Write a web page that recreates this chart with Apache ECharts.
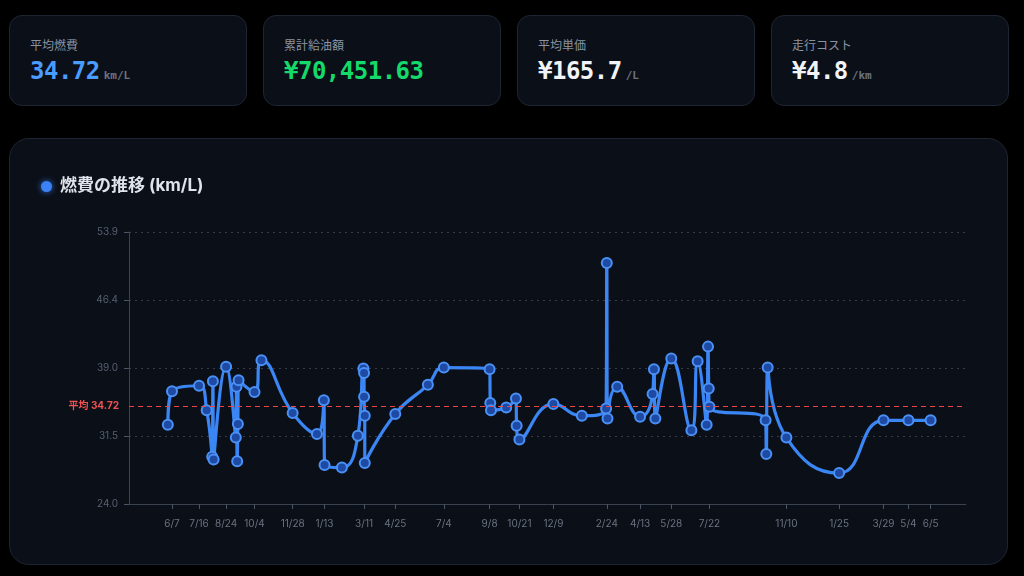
<!DOCTYPE html>
<html lang="ja">
<head>
<meta charset="utf-8">
<title>燃費の推移</title>
<script src="https://cdn.jsdelivr.net/npm/echarts@6/dist/echarts.min.js"></script>
<style>
  html, body { margin: 0; padding: 0; background: #000; }
  body { width: 1024px; height: 576px; position: relative; overflow: hidden;
         font-family: Inter, "Noto Sans CJK JP", sans-serif; }
  .card { position: absolute; top: 15px; width: 238px; height: 91px; box-sizing: border-box;
          background: #0b0f17; border: 1px solid #1e2532; border-radius: 13px; }
  .card .label { position: absolute; left: 20px; top: 20px; font-size: 12px; color: #8a93a3;
                 font-family: "Noto Sans CJK JP", sans-serif; }
  .card .value { position: absolute; left: 20px; top: 41px; white-space: nowrap;
                 font-family: "DejaVu Sans Mono", monospace; font-weight: bold; }
  .card .num { font-size: 24px; letter-spacing: -0.5px; }
  .card .unit { font-size: 11px; color: #6b7280; margin-left: 4px; }
  #panel { position: absolute; left: 9px; top: 138px; width: 999px; height: 427px; box-sizing: border-box;
           background: #0b0f17; border: 1px solid #1e2532; border-radius: 20px; }
  #title { position: absolute; left: 31px; top: 32px; font-size: 17px; font-weight: bold; color: #dfe4ec;
           font-family: Inter, "Noto Sans CJK JP", sans-serif; }
  #title .dot { display: inline-block; width: 11px; height: 11px; border-radius: 50%; background: #3b82f6;
                box-shadow: 0 0 6px rgba(59,130,246,0.8); margin-right: 8px; vertical-align: -1px; }
  #chart { position: absolute; left: 0; top: 0; width: 997px; height: 425px; }
</style>
</head>
<body>
<div class="card" style="left:9px">
  <div class="label">平均燃費</div>
  <div class="value"><span class="num" style="color:#4a9cff">34.72</span><span class="unit">km/L</span></div>
</div>
<div class="card" style="left:263px">
  <div class="label">累計給油額</div>
  <div class="value"><span class="num" style="color:#14d96b">¥70,451.63</span></div>
</div>
<div class="card" style="left:517px">
  <div class="label">平均単価</div>
  <div class="value"><span class="num" style="color:#f1f3f6">¥165.7</span><span class="unit">/L</span></div>
</div>
<div class="card" style="left:771px">
  <div class="label">走行コスト</div>
  <div class="value"><span class="num" style="color:#f1f3f6">¥4.8</span><span class="unit">/km</span></div>
</div>

<div id="panel">
  <div id="chart"></div>
  <div id="title"><span class="dot"></span>燃費の推移 (km/L)</div>
</div>

<script>
// 給油日ごとの燃費 (km/L)
var fuelDates = [
  '2021-06-01', '2021-06-07', '2021-07-16', '2021-07-27', '2021-08-04', '2021-08-05', '2021-08-06',
  '2021-08-24', '2021-09-07', '2021-09-08', '2021-09-09', '2021-09-10', '2021-09-11', '2021-10-04',
  '2021-10-14', '2021-11-28', '2022-01-02', '2022-01-12', '2022-01-13', '2022-02-07', '2022-03-02',
  '2022-03-10', '2022-03-11', '2022-03-11', '2022-03-12', '2022-03-12', '2022-04-25', '2022-06-11',
  '2022-07-04', '2022-09-08', '2022-09-09', '2022-09-10', '2022-10-02', '2022-10-16', '2022-10-17',
  '2022-10-21', '2022-12-09', '2023-01-19', '2023-02-23', '2023-02-24', '2023-02-25', '2023-03-11',
  '2023-04-13', '2023-05-01', '2023-05-03', '2023-05-05', '2023-05-28', '2023-06-26', '2023-07-05',
  '2023-07-18', '2023-07-20', '2023-07-21', '2023-07-22', '2023-10-11', '2023-10-12', '2023-10-14',
  '2023-11-10', '2024-01-25', '2024-03-29', '2024-05-04', '2024-06-05'
];
var fuelValues = [
  32.7, 36.4, 37.0, 34.3, 29.2, 37.5, 28.9,
  39.1, 31.3, 36.9, 28.7, 32.8, 37.6, 36.3,
  39.8, 34.0, 31.7, 35.4, 28.3, 28.0, 31.5,
  38.9, 38.4, 35.8, 33.7, 28.5, 33.9, 37.1,
  39.0, 38.8, 35.1, 34.3, 34.6, 35.6, 32.6,
  31.1, 35.0, 33.7, 34.5, 50.5, 33.4, 36.9,
  33.6, 36.1, 38.8, 33.4, 40.0, 32.1, 39.7,
  32.7, 41.3, 36.7, 34.7, 33.2, 29.5, 39.0,
  31.3, 27.4, 33.2, 33.2, 33.2
];
// x軸に表示する日付
var xTickDates = [
  '2021-06-07', '2021-07-16', '2021-08-24', '2021-10-04', '2021-11-28', '2022-01-13', '2022-03-11',
  '2022-04-25', '2022-07-04', '2022-09-08', '2022-10-21', '2022-12-09', '2023-02-24', '2023-04-13',
  '2023-05-28', '2023-07-22', '2023-11-10', '2024-01-25', '2024-03-29', '2024-05-04', '2024-06-05'
];
var yTicks = [24.0, 31.475, 38.95, 46.425, 53.9];
var avgFuel = 34.72;
var xRange = ['2021-04-06', '2024-07-26'];

function ts(s) {
  var p = s.split('-');
  return new Date(+p[0], +p[1] - 1, +p[2]).getTime();
}

var dom = document.getElementById('chart');
var myChart = echarts.init(dom, null, { renderer: 'canvas' });

var seriesData = fuelDates.map(function (d, i) { return [ts(d), fuelValues[i]]; });
var xTicks = xTickDates.map(ts);

var option = {
  backgroundColor: 'transparent',
  animation: false,
  grid: { left: 119, right: 41, top: 93, bottom: 60 },
  xAxis: {
    type: 'value',
    min: ts(xRange[0]),
    max: ts(xRange[1]),
    axisLine: { show: true, lineStyle: { color: '#3a4250', width: 1 } },
    axisTick: { show: true, length: 5, customValues: xTicks, lineStyle: { color: '#4b5563' } },
    axisLabel: {
      customValues: xTicks,
      margin: 15,
      color: '#6b7280',
      fontSize: 10,
      fontFamily: 'Inter, sans-serif',
      formatter: function (v) {
        var d = new Date(v);
        return (d.getMonth() + 1) + '/' + d.getDate();
      }
    },
    splitLine: { show: false }
  },
  yAxis: {
    type: 'value',
    min: 24,
    max: 53.9,
    axisLine: { show: true, lineStyle: { color: '#3a4250', width: 1 } },
    axisTick: { show: true, length: 5, customValues: yTicks, lineStyle: { color: '#4b5563' } },
    axisLabel: {
      customValues: yTicks,
      margin: 11,
      color: '#566070',
      fontSize: 10,
      fontFamily: 'Inter, sans-serif',
      formatter: function (v) { return v.toFixed(1); }
    },
    splitLine: { show: true, lineStyle: { color: '#363d49', type: [2, 4], width: 1 } }
  },
  series: [
    {
      name: '燃費',
      type: 'line',
      data: seriesData,
      smooth: true,
      symbol: 'circle',
      symbolSize: 10,
      lineStyle: { color: '#3b86f5', width: 3.2 },
      itemStyle: { color: '#1f4aa3', borderColor: '#4a91f7', borderWidth: 2 },
      markLine: {
        silent: true,
        symbol: 'none',
        lineStyle: { color: '#ef4444', type: [5, 4], width: 1.2 },
        label: {
          position: 'start',
          formatter: '平均 ' + avgFuel,
          color: '#f05252',
          fontSize: 10,
          fontWeight: 'bold',
          fontFamily: 'Inter, "Noto Sans CJK JP", sans-serif',
          distance: 10
        },
        data: [{ yAxis: avgFuel }]
      }
    }
  ]
};

if (option && typeof option === 'object') {
  myChart.setOption(option, true);
}
</script>
</body>
</html>
